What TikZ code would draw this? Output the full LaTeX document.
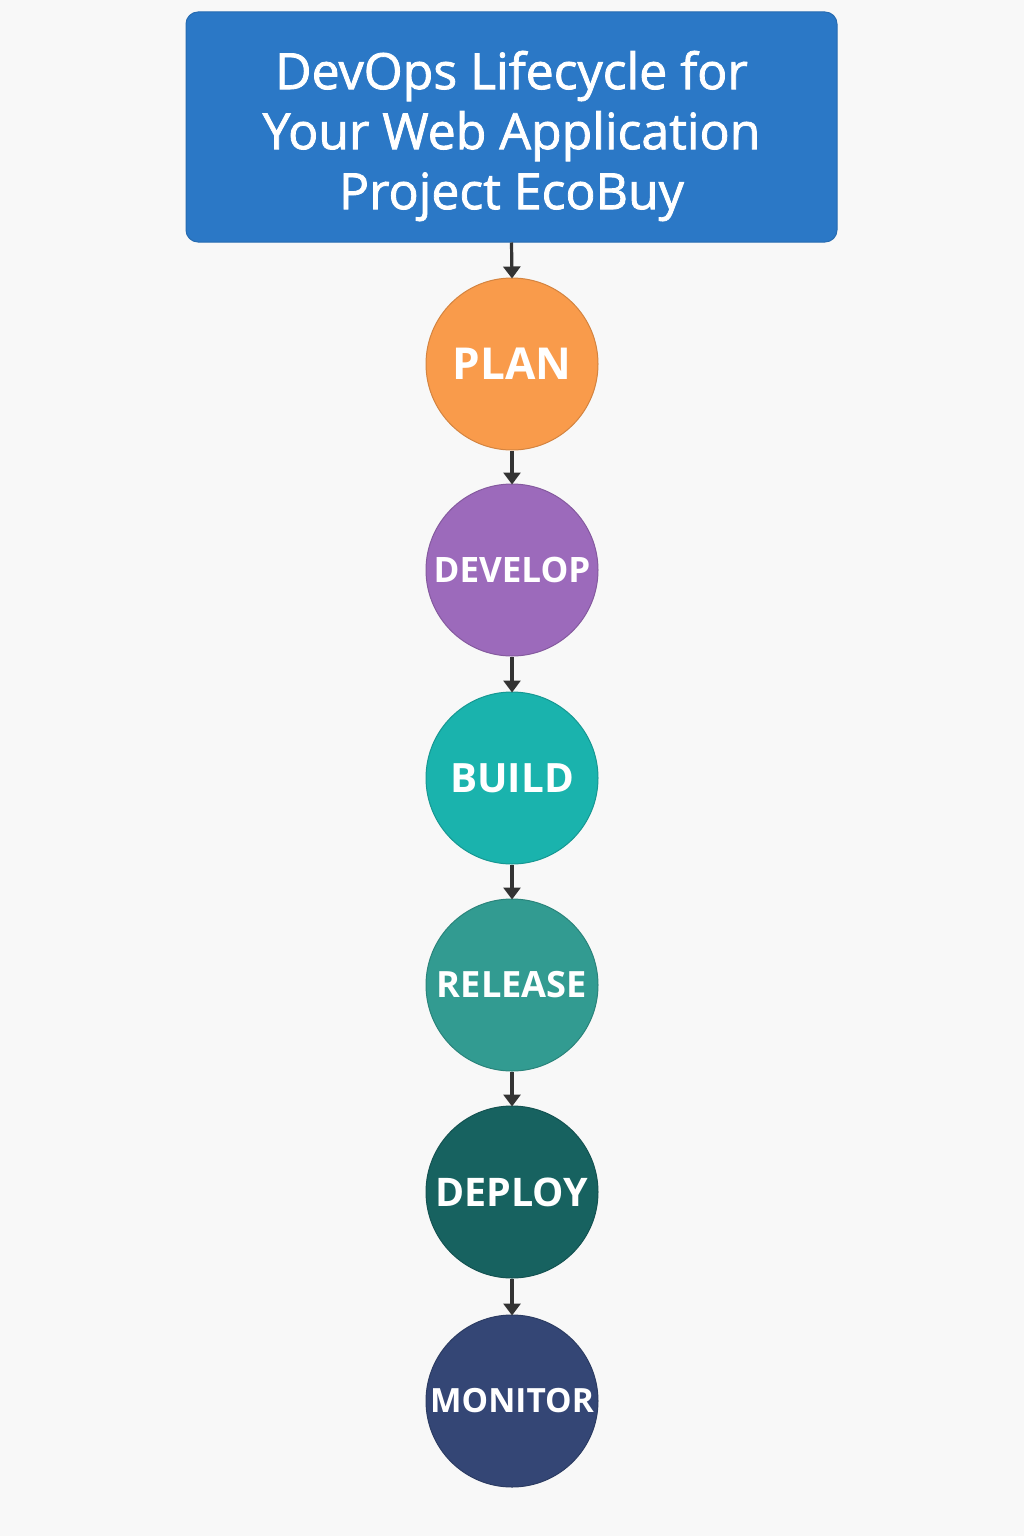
\documentclass[tikz,border=0pt]{standalone}
\usepackage{fontspec}
\setmainfont{Open Sans}
\newfontfamily\headingfont[FakeBold=1.6]{Open Sans}
\usetikzlibrary{arrows.meta}
\definecolor{pagebg}{HTML}{F8F8F8}
\definecolor{titleblue}{HTML}{2B78C6}
\definecolor{arrowgray}{HTML}{333333}
\definecolor{cplan}{HTML}{F99B4B}
\definecolor{cdevelop}{HTML}{9C6ABB}
\definecolor{cbuild}{HTML}{1AB3AD}
\definecolor{crelease}{HTML}{329B91}
\definecolor{cdeploy}{HTML}{176260}
\definecolor{cmonitor}{HTML}{344675}
\tikzset{
  titlebox/.style={draw=titleblue!90!black, line width=0.5pt, fill=titleblue,
    rounded corners=6pt, minimum width=325.5pt, minimum height=115pt,
    inner sep=0pt},
  titletext/.style={text=white, align=center, inner sep=0pt, yshift=-4.5pt,
    font=\headingfont\fontsize{25}{30}\selectfont},
  stage/.style={circle, fill=#1, draw=#1!85!black, line width=0.5pt,
    minimum size=86pt, inner sep=0pt, text=white, font=\bfseries},
  flow/.style={draw=arrowgray, line width=1.6pt,
    -{Triangle[length=6pt, width=8.5pt]}, shorten >=-0.5pt},
}
\begin{document}
\begin{tikzpicture}[x=0.5pt, y=-0.5pt]
  % page
  \fill[pagebg] (0,0) rectangle (1024,1536);
  \useasboundingbox (0,0) rectangle (1024,1536);

  % heading
  \node[titlebox, label={[titletext]center:DevOps Lifecycle for\\Your Web Application\\Project EcoBuy}]
    (title) at (511.5,127) {};

  % lifecycle stages
  \node[stage=cplan] (plan) at (512,364)
    {\fontsize{22}{24}\selectfont PLAN};
  \node[stage=cdevelop] (develop) at (512,570)
    {\fontsize{17.5}{20}\selectfont DEVELOP};
  \node[stage=cbuild] (build) at (512,778)
    {\fontsize{20.2}{22}\selectfont BUILD};
  \node[stage=crelease] (release) at (512,985)
    {\fontsize{18.1}{20}\selectfont RELEASE};
  \node[stage=cdeploy] (deploy) at (512,1192)
    {\fontsize{19.7}{22}\selectfont DEPLOY};
  \node[stage=cmonitor] (monitor) at (512,1401)
    {\fontsize{16.7}{19}\selectfont MONITOR};

  % connectors
  \draw[flow] (title.south) -- (plan.north);
  \draw[flow] (plan.south) -- (develop.north);
  \draw[flow] (develop.south) -- (build.north);
  \draw[flow] (build.south) -- (release.north);
  \draw[flow] (release.south) -- (deploy.north);
  \draw[flow] (deploy.south) -- (monitor.north);
\end{tikzpicture}
\end{document}
